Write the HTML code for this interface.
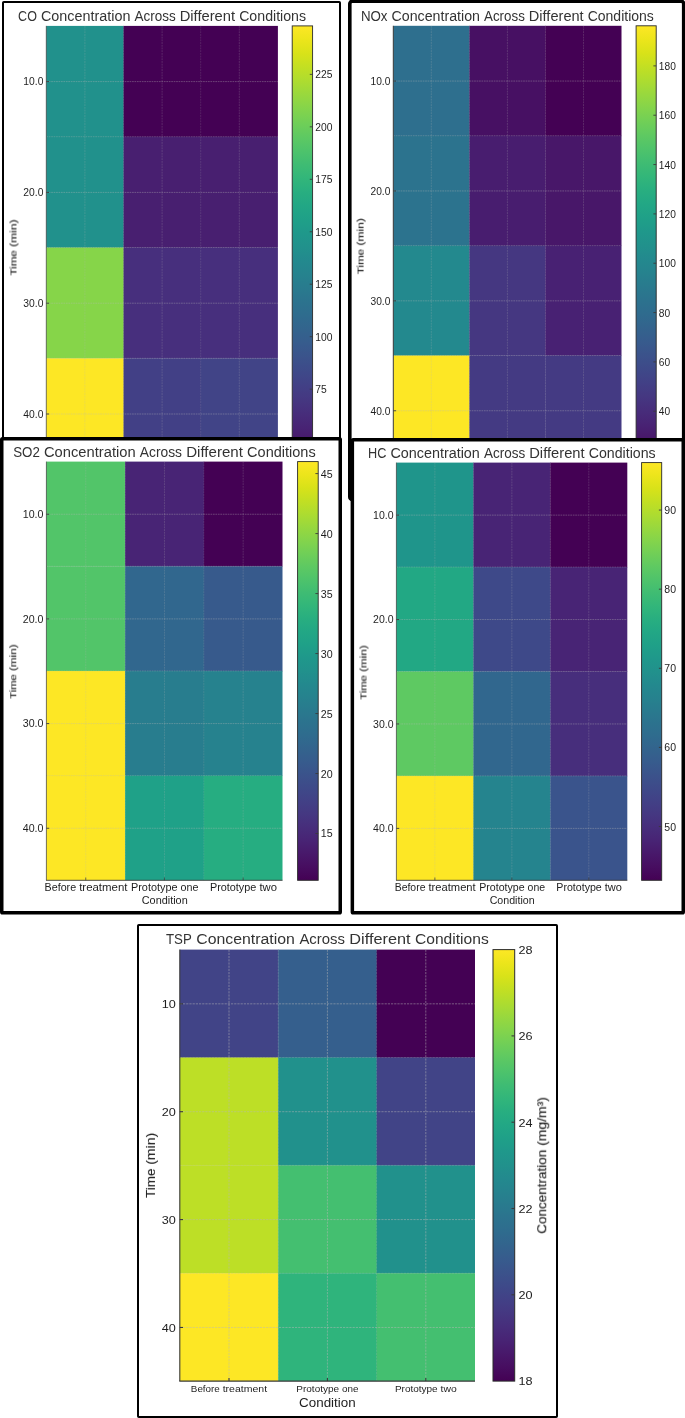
<!DOCTYPE html>
<html><head><meta charset="utf-8"><title>Concentration heatmaps</title><style>
html,body{margin:0;padding:0;background:#fff}
body{width:685px;height:1418px;position:relative;overflow:hidden;font-family:"Liberation Sans", sans-serif}
.layer{position:absolute;left:0;top:0;width:685px;height:1418px}
.t{position:absolute;white-space:nowrap;line-height:1;font-family:"Liberation Sans", sans-serif;will-change:transform}
.t span{position:absolute;left:0;top:0;transform-origin:0 0;white-space:nowrap}
</style></head>
<body>
<svg width="0" height="0" style="position:absolute"><defs><linearGradient id="vir" x1="0" y1="1" x2="0" y2="0"><stop offset="0.0000" stop-color="#440154"/><stop offset="0.0312" stop-color="#470d60"/><stop offset="0.0625" stop-color="#48186a"/><stop offset="0.0938" stop-color="#482374"/><stop offset="0.1250" stop-color="#472d7b"/><stop offset="0.1562" stop-color="#453781"/><stop offset="0.1875" stop-color="#424086"/><stop offset="0.2188" stop-color="#3e4989"/><stop offset="0.2500" stop-color="#3b528b"/><stop offset="0.2812" stop-color="#375b8d"/><stop offset="0.3125" stop-color="#33638d"/><stop offset="0.3438" stop-color="#2f6b8e"/><stop offset="0.3750" stop-color="#2c728e"/><stop offset="0.4062" stop-color="#297a8e"/><stop offset="0.4375" stop-color="#26828e"/><stop offset="0.4688" stop-color="#23898e"/><stop offset="0.5000" stop-color="#21918c"/><stop offset="0.5312" stop-color="#1f988b"/><stop offset="0.5625" stop-color="#1fa088"/><stop offset="0.5938" stop-color="#22a785"/><stop offset="0.6250" stop-color="#28ae80"/><stop offset="0.6562" stop-color="#32b67a"/><stop offset="0.6875" stop-color="#3fbc73"/><stop offset="0.7188" stop-color="#4ec36b"/><stop offset="0.7500" stop-color="#5ec962"/><stop offset="0.7812" stop-color="#70cf57"/><stop offset="0.8125" stop-color="#84d44b"/><stop offset="0.8438" stop-color="#98d83e"/><stop offset="0.8750" stop-color="#addc30"/><stop offset="0.9062" stop-color="#c2df23"/><stop offset="0.9375" stop-color="#d8e219"/><stop offset="0.9688" stop-color="#ece51b"/><stop offset="1.0000" stop-color="#fde725"/></linearGradient></defs></svg>
<div class="layer" id="p1">
<svg class="layer" width="685" height="1418" viewBox="0 0 685 1418">
<rect x="3.00" y="2.00" width="337.00" height="499.00" rx="0.8" fill="#fff" stroke="#000" stroke-width="2"/>
<rect x="46.30" y="25.90" width="77.60" height="111.20" fill="#21918c"/>
<rect x="123.50" y="25.90" width="77.60" height="111.20" fill="#440154"/>
<rect x="200.70" y="25.90" width="77.20" height="111.20" fill="#440154"/>
<rect x="46.30" y="136.70" width="77.60" height="111.20" fill="#21918c"/>
<rect x="123.50" y="136.70" width="77.60" height="111.20" fill="#481f70"/>
<rect x="200.70" y="136.70" width="77.20" height="111.20" fill="#481f70"/>
<rect x="46.30" y="247.50" width="77.60" height="111.20" fill="#86d549"/>
<rect x="123.50" y="247.50" width="77.60" height="111.20" fill="#472f7d"/>
<rect x="200.70" y="247.50" width="77.20" height="111.20" fill="#472f7d"/>
<rect x="46.30" y="358.30" width="77.60" height="110.80" fill="#fde725"/>
<rect x="123.50" y="358.30" width="77.60" height="110.80" fill="#424086"/>
<rect x="200.70" y="358.30" width="77.20" height="110.80" fill="#414487"/>
<line x1="84.90" y1="25.90" x2="84.90" y2="469.10" stroke="#b8b8b8" stroke-opacity="0.45" stroke-width="0.5" stroke-dasharray="1.9 0.8"/>
<line x1="162.10" y1="25.90" x2="162.10" y2="469.10" stroke="#b8b8b8" stroke-opacity="0.45" stroke-width="0.5" stroke-dasharray="1.9 0.8"/>
<line x1="239.30" y1="25.90" x2="239.30" y2="469.10" stroke="#b8b8b8" stroke-opacity="0.45" stroke-width="0.5" stroke-dasharray="1.9 0.8"/>
<line x1="46.30" y1="81.60" x2="277.90" y2="81.60" stroke="#b8b8b8" stroke-opacity="0.45" stroke-width="0.8" stroke-dasharray="1.7 0.75"/>
<line x1="46.30" y1="192.40" x2="277.90" y2="192.40" stroke="#b8b8b8" stroke-opacity="0.45" stroke-width="0.8" stroke-dasharray="1.7 0.75"/>
<line x1="46.30" y1="303.20" x2="277.90" y2="303.20" stroke="#b8b8b8" stroke-opacity="0.45" stroke-width="0.8" stroke-dasharray="1.7 0.75"/>
<line x1="46.30" y1="414.00" x2="277.90" y2="414.00" stroke="#b8b8b8" stroke-opacity="0.45" stroke-width="0.8" stroke-dasharray="1.7 0.75"/>
<line x1="123.50" y1="25.90" x2="123.50" y2="469.10" stroke="#b8b8b8" stroke-opacity="0.36" stroke-width="0.5" stroke-dasharray="1.9 0.8"/>
<line x1="200.70" y1="25.90" x2="200.70" y2="469.10" stroke="#b8b8b8" stroke-opacity="0.36" stroke-width="0.5" stroke-dasharray="1.9 0.8"/>
<line x1="46.30" y1="136.70" x2="277.90" y2="136.70" stroke="#b8b8b8" stroke-opacity="0.36" stroke-width="0.8" stroke-dasharray="1.7 0.75"/>
<line x1="46.30" y1="247.50" x2="277.90" y2="247.50" stroke="#b8b8b8" stroke-opacity="0.36" stroke-width="0.8" stroke-dasharray="1.7 0.75"/>
<line x1="46.30" y1="358.30" x2="277.90" y2="358.30" stroke="#b8b8b8" stroke-opacity="0.36" stroke-width="0.8" stroke-dasharray="1.7 0.75"/>
<path d="M46.30 25.90V469.10" stroke="#3a3a3a" stroke-width="0.7" fill="none"/>
<path d="M45.95 469.10H277.90" stroke="#3a3a3a" stroke-width="0.9" fill="none"/>
<path d="M46.30 81.60h2.8" stroke="#3a3a3a" stroke-width="0.9"/>
<path d="M46.30 192.40h2.8" stroke="#3a3a3a" stroke-width="0.9"/>
<path d="M46.30 303.20h2.8" stroke="#3a3a3a" stroke-width="0.9"/>
<path d="M46.30 414.00h2.8" stroke="#3a3a3a" stroke-width="0.9"/>
<path d="M84.90 469.10v-2.8" stroke="#3a3a3a" stroke-width="0.7"/>
<path d="M162.10 469.10v-2.8" stroke="#3a3a3a" stroke-width="0.7"/>
<path d="M239.30 469.10v-2.8" stroke="#3a3a3a" stroke-width="0.7"/>
<rect x="292.20" y="25.90" width="20.40" height="443.20" fill="url(#vir)" stroke="#2a2a2a" stroke-width="0.9"/>
<path d="M312.60 389.15h-2.8" stroke="#3a3a3a" stroke-width="0.9"/>
<path d="M312.60 336.69h-2.8" stroke="#3a3a3a" stroke-width="0.9"/>
<path d="M312.60 284.22h-2.8" stroke="#3a3a3a" stroke-width="0.9"/>
<path d="M312.60 231.76h-2.8" stroke="#3a3a3a" stroke-width="0.9"/>
<path d="M312.60 179.30h-2.8" stroke="#3a3a3a" stroke-width="0.9"/>
<path d="M312.60 126.84h-2.8" stroke="#3a3a3a" stroke-width="0.9"/>
<path d="M312.60 74.38h-2.8" stroke="#3a3a3a" stroke-width="0.9"/>
</svg>
<div class="t " style="left:315px;top:385px;width:11.50px;height:10.45px;font-size:10.45px;color:#1e1e1e"><span style="transform:translate(0.20px,0.09px) scaleX(0.9892)">75</span></div>
<div class="t " style="left:315px;top:332px;width:17.25px;height:10.45px;font-size:10.45px;color:#1e1e1e"><span style="transform:translate(0.20px,0.63px) scaleX(0.9891)">100</span></div>
<div class="t " style="left:315px;top:280px;width:17.25px;height:10.45px;font-size:10.45px;color:#1e1e1e"><span style="transform:translate(0.20px,0.17px) scaleX(0.9891)">125</span></div>
<div class="t " style="left:315px;top:227px;width:17.25px;height:10.45px;font-size:10.45px;color:#1e1e1e"><span style="transform:translate(0.20px,0.71px) scaleX(0.9891)">150</span></div>
<div class="t " style="left:315px;top:175px;width:17.25px;height:10.45px;font-size:10.45px;color:#1e1e1e"><span style="transform:translate(0.20px,0.24px) scaleX(0.9891)">175</span></div>
<div class="t " style="left:315px;top:122px;width:17.25px;height:10.45px;font-size:10.45px;color:#1e1e1e"><span style="transform:translate(0.20px,0.78px) scaleX(0.9891)">200</span></div>
<div class="t " style="left:315px;top:70px;width:17.25px;height:10.45px;font-size:10.45px;color:#1e1e1e"><span style="transform:translate(0.20px,0.32px) scaleX(0.9891)">225</span></div>
<div class="t " style="left:23px;top:77px;width:20.12px;height:10.45px;font-size:10.45px;color:#1e1e1e"><span style="transform:translate(0.28px,0.25px) scaleX(0.9892)">10.0</span></div>
<div class="t " style="left:23px;top:188px;width:20.12px;height:10.45px;font-size:10.45px;color:#1e1e1e"><span style="transform:translate(0.28px,0.05px) scaleX(0.9892)">20.0</span></div>
<div class="t " style="left:23px;top:298px;width:20.12px;height:10.45px;font-size:10.45px;color:#1e1e1e"><span style="transform:translate(0.28px,0.84px) scaleX(0.9892)">30.0</span></div>
<div class="t " style="left:23px;top:409px;width:20.12px;height:10.45px;font-size:10.45px;color:#1e1e1e"><span style="transform:translate(0.28px,0.65px) scaleX(0.9892)">40.0</span></div>
<div class="t ttl" style="left:18px;top:8px;width:288.00px;height:14.63px;font-size:14.63px;color:#333333"><span style="transform:translate(0.10px,0.90px) scaleX(0.8563)">CO</span> <span style="transform:translate(22.91px,0.90px) scaleX(0.9825)">Concentration</span> <span style="transform:translate(116.43px,0.90px) scaleX(0.9222)">Across</span> <span style="transform:translate(161.68px,0.90px) scaleX(1.0075)">Different</span> <span style="transform:translate(221.14px,0.90px) scaleX(0.9686)">Conditions</span></div>
<div class="t" style="left:-15px;top:242px;width:55.94px;height:9.44px;font-size:9.44px;color:#1e1e1e;transform:translate(0.24px,0.78px) rotate(-90deg);-webkit-text-stroke:0.12px #1e1e1e"><span style="transform:translate(0.00px,0.00px) scaleX(1.2220)">Time</span> <span style="transform:translate(28.48px,0.00px) scaleX(1.2774)">(min)</span></div>
</div>
<div class="layer" id="p2">
<svg class="layer" width="685" height="1418" viewBox="0 0 685 1418">
<rect x="349.80" y="1.30" width="333.90" height="498.20" rx="2.5" fill="#fff" stroke="#000" stroke-width="3.6"/>
<rect x="393.30" y="25.80" width="76.47" height="110.30" fill="#2e6f8e"/>
<rect x="469.37" y="25.80" width="76.47" height="110.30" fill="#471063"/>
<rect x="545.43" y="25.80" width="76.07" height="110.30" fill="#440154"/>
<rect x="393.30" y="135.70" width="76.47" height="110.30" fill="#2c738e"/>
<rect x="469.37" y="135.70" width="76.47" height="110.30" fill="#481d6f"/>
<rect x="545.43" y="135.70" width="76.07" height="110.30" fill="#481769"/>
<rect x="393.30" y="245.60" width="76.47" height="110.30" fill="#23898e"/>
<rect x="469.37" y="245.60" width="76.47" height="110.30" fill="#453781"/>
<rect x="545.43" y="245.60" width="76.07" height="110.30" fill="#482173"/>
<rect x="393.30" y="355.50" width="76.47" height="109.90" fill="#fde725"/>
<rect x="469.37" y="355.50" width="76.47" height="109.90" fill="#443a83"/>
<rect x="545.43" y="355.50" width="76.07" height="109.90" fill="#443a83"/>
<line x1="431.33" y1="25.80" x2="431.33" y2="465.40" stroke="#b8b8b8" stroke-opacity="0.45" stroke-width="0.5" stroke-dasharray="1.9 0.8"/>
<line x1="507.40" y1="25.80" x2="507.40" y2="465.40" stroke="#b8b8b8" stroke-opacity="0.45" stroke-width="0.5" stroke-dasharray="1.9 0.8"/>
<line x1="583.47" y1="25.80" x2="583.47" y2="465.40" stroke="#b8b8b8" stroke-opacity="0.45" stroke-width="0.5" stroke-dasharray="1.9 0.8"/>
<line x1="393.30" y1="81.05" x2="621.50" y2="81.05" stroke="#b8b8b8" stroke-opacity="0.45" stroke-width="0.8" stroke-dasharray="1.7 0.75"/>
<line x1="393.30" y1="190.95" x2="621.50" y2="190.95" stroke="#b8b8b8" stroke-opacity="0.45" stroke-width="0.8" stroke-dasharray="1.7 0.75"/>
<line x1="393.30" y1="300.85" x2="621.50" y2="300.85" stroke="#b8b8b8" stroke-opacity="0.45" stroke-width="0.8" stroke-dasharray="1.7 0.75"/>
<line x1="393.30" y1="410.75" x2="621.50" y2="410.75" stroke="#b8b8b8" stroke-opacity="0.45" stroke-width="0.8" stroke-dasharray="1.7 0.75"/>
<line x1="469.37" y1="25.80" x2="469.37" y2="465.40" stroke="#b8b8b8" stroke-opacity="0.36" stroke-width="0.5" stroke-dasharray="1.9 0.8"/>
<line x1="545.43" y1="25.80" x2="545.43" y2="465.40" stroke="#b8b8b8" stroke-opacity="0.36" stroke-width="0.5" stroke-dasharray="1.9 0.8"/>
<line x1="393.30" y1="135.70" x2="621.50" y2="135.70" stroke="#b8b8b8" stroke-opacity="0.36" stroke-width="0.8" stroke-dasharray="1.7 0.75"/>
<line x1="393.30" y1="245.60" x2="621.50" y2="245.60" stroke="#b8b8b8" stroke-opacity="0.36" stroke-width="0.8" stroke-dasharray="1.7 0.75"/>
<line x1="393.30" y1="355.50" x2="621.50" y2="355.50" stroke="#b8b8b8" stroke-opacity="0.36" stroke-width="0.8" stroke-dasharray="1.7 0.75"/>
<path d="M393.30 25.80V465.40" stroke="#3a3a3a" stroke-width="1.0" fill="none"/>
<path d="M392.80 465.40H621.50" stroke="#3a3a3a" stroke-width="0.9" fill="none"/>
<path d="M393.30 81.05h2.8" stroke="#3a3a3a" stroke-width="0.9"/>
<path d="M393.30 190.95h2.8" stroke="#3a3a3a" stroke-width="0.9"/>
<path d="M393.30 300.85h2.8" stroke="#3a3a3a" stroke-width="0.9"/>
<path d="M393.30 410.75h2.8" stroke="#3a3a3a" stroke-width="0.9"/>
<path d="M431.33 465.40v-2.8" stroke="#3a3a3a" stroke-width="1.0"/>
<path d="M507.40 465.40v-2.8" stroke="#3a3a3a" stroke-width="1.0"/>
<path d="M583.47 465.40v-2.8" stroke="#3a3a3a" stroke-width="1.0"/>
<rect x="636.10" y="25.80" width="20.10" height="439.60" fill="url(#vir)" stroke="#2a2a2a" stroke-width="0.9"/>
<path d="M656.20 411.25h-2.8" stroke="#3a3a3a" stroke-width="0.9"/>
<path d="M656.20 361.91h-2.8" stroke="#3a3a3a" stroke-width="0.9"/>
<path d="M656.20 312.58h-2.8" stroke="#3a3a3a" stroke-width="0.9"/>
<path d="M656.20 263.24h-2.8" stroke="#3a3a3a" stroke-width="0.9"/>
<path d="M656.20 213.90h-2.8" stroke="#3a3a3a" stroke-width="0.9"/>
<path d="M656.20 164.56h-2.8" stroke="#3a3a3a" stroke-width="0.9"/>
<path d="M656.20 115.22h-2.8" stroke="#3a3a3a" stroke-width="0.9"/>
<path d="M656.20 65.89h-2.8" stroke="#3a3a3a" stroke-width="0.9"/>
</svg>
<div class="t " style="left:658px;top:407px;width:11.38px;height:10.45px;font-size:10.45px;color:#1e1e1e"><span style="transform:translate(0.80px,0.20px) scaleX(0.9787)">40</span></div>
<div class="t " style="left:658px;top:357px;width:11.38px;height:10.45px;font-size:10.45px;color:#1e1e1e"><span style="transform:translate(0.80px,0.86px) scaleX(0.9787)">60</span></div>
<div class="t " style="left:658px;top:308px;width:11.38px;height:10.45px;font-size:10.45px;color:#1e1e1e"><span style="transform:translate(0.80px,0.52px) scaleX(0.9787)">80</span></div>
<div class="t " style="left:658px;top:259px;width:17.06px;height:10.45px;font-size:10.45px;color:#1e1e1e"><span style="transform:translate(0.80px,0.18px) scaleX(0.9786)">100</span></div>
<div class="t " style="left:658px;top:209px;width:17.06px;height:10.45px;font-size:10.45px;color:#1e1e1e"><span style="transform:translate(0.80px,0.85px) scaleX(0.9786)">120</span></div>
<div class="t " style="left:658px;top:160px;width:17.06px;height:10.45px;font-size:10.45px;color:#1e1e1e"><span style="transform:translate(0.80px,0.51px) scaleX(0.9786)">140</span></div>
<div class="t " style="left:658px;top:111px;width:17.06px;height:10.45px;font-size:10.45px;color:#1e1e1e"><span style="transform:translate(0.80px,0.17px) scaleX(0.9786)">160</span></div>
<div class="t " style="left:658px;top:61px;width:17.06px;height:10.45px;font-size:10.45px;color:#1e1e1e"><span style="transform:translate(0.80px,0.83px) scaleX(0.9786)">180</span></div>
<div class="t " style="left:370px;top:77px;width:19.91px;height:10.45px;font-size:10.45px;color:#1e1e1e"><span style="transform:translate(0.49px,0.19px) scaleX(0.9787)">10.0</span></div>
<div class="t " style="left:370px;top:187px;width:19.91px;height:10.45px;font-size:10.45px;color:#1e1e1e"><span style="transform:translate(0.49px,0.10px) scaleX(0.9787)">20.0</span></div>
<div class="t " style="left:370px;top:296px;width:19.91px;height:10.45px;font-size:10.45px;color:#1e1e1e"><span style="transform:translate(0.49px,1.00px) scaleX(0.9787)">30.0</span></div>
<div class="t " style="left:370px;top:406px;width:19.91px;height:10.45px;font-size:10.45px;color:#1e1e1e"><span style="transform:translate(0.49px,0.89px) scaleX(0.9787)">40.0</span></div>
<div class="t ttl" style="left:360px;top:8px;width:292.97px;height:14.63px;font-size:14.63px;color:#333333"><span style="transform:translate(0.91px,0.90px) scaleX(0.9098)">NOx</span> <span style="transform:translate(31.51px,0.90px) scaleX(0.9721)">Concentration</span> <span style="transform:translate(124.04px,0.90px) scaleX(0.9124)">Across</span> <span style="transform:translate(168.81px,0.90px) scaleX(0.9968)">Different</span> <span style="transform:translate(227.64px,0.90px) scaleX(0.9583)">Conditions</span></div>
<div class="t" style="left:333px;top:241px;width:55.94px;height:9.34px;font-size:9.34px;color:#1e1e1e;transform:translate(0.26px,0.53px) rotate(-90deg);-webkit-text-stroke:0.12px #1e1e1e"><span style="transform:translate(0.00px,0.00px) scaleX(1.2351)">Time</span> <span style="transform:translate(28.48px,0.00px) scaleX(1.2910)">(min)</span></div>
</div>
<div class="layer" id="p3">
<svg class="layer" width="685" height="1418" viewBox="0 0 685 1418">
<rect x="1.75" y="438.75" width="338.50" height="474.00" rx="0.8" fill="#fff" stroke="#000" stroke-width="3.5"/>
<rect x="46.40" y="461.60" width="79.10" height="105.07" fill="#52c569"/>
<rect x="125.10" y="461.60" width="79.10" height="105.07" fill="#482475"/>
<rect x="203.80" y="461.60" width="78.70" height="105.07" fill="#440154"/>
<rect x="46.40" y="566.27" width="79.10" height="105.07" fill="#52c569"/>
<rect x="125.10" y="566.27" width="79.10" height="105.07" fill="#31678e"/>
<rect x="203.80" y="566.27" width="78.70" height="105.07" fill="#375a8c"/>
<rect x="46.40" y="670.95" width="79.10" height="105.07" fill="#fde725"/>
<rect x="125.10" y="670.95" width="79.10" height="105.07" fill="#287d8e"/>
<rect x="203.80" y="670.95" width="78.70" height="105.07" fill="#26828e"/>
<rect x="46.40" y="775.62" width="79.10" height="104.67" fill="#fde725"/>
<rect x="125.10" y="775.62" width="79.10" height="104.67" fill="#1fa188"/>
<rect x="203.80" y="775.62" width="78.70" height="104.67" fill="#26ad81"/>
<line x1="85.75" y1="461.60" x2="85.75" y2="880.30" stroke="#b8b8b8" stroke-opacity="0.45" stroke-width="0.5" stroke-dasharray="1.9 0.8"/>
<line x1="164.45" y1="461.60" x2="164.45" y2="880.30" stroke="#b8b8b8" stroke-opacity="0.45" stroke-width="0.5" stroke-dasharray="1.9 0.8"/>
<line x1="243.15" y1="461.60" x2="243.15" y2="880.30" stroke="#b8b8b8" stroke-opacity="0.45" stroke-width="0.5" stroke-dasharray="1.9 0.8"/>
<line x1="46.40" y1="514.24" x2="282.50" y2="514.24" stroke="#b8b8b8" stroke-opacity="0.45" stroke-width="0.8" stroke-dasharray="1.7 0.75"/>
<line x1="46.40" y1="618.91" x2="282.50" y2="618.91" stroke="#b8b8b8" stroke-opacity="0.45" stroke-width="0.8" stroke-dasharray="1.7 0.75"/>
<line x1="46.40" y1="723.59" x2="282.50" y2="723.59" stroke="#b8b8b8" stroke-opacity="0.45" stroke-width="0.8" stroke-dasharray="1.7 0.75"/>
<line x1="46.40" y1="828.26" x2="282.50" y2="828.26" stroke="#b8b8b8" stroke-opacity="0.45" stroke-width="0.8" stroke-dasharray="1.7 0.75"/>
<line x1="125.10" y1="461.60" x2="125.10" y2="880.30" stroke="#b8b8b8" stroke-opacity="0.36" stroke-width="0.5" stroke-dasharray="1.9 0.8"/>
<line x1="203.80" y1="461.60" x2="203.80" y2="880.30" stroke="#b8b8b8" stroke-opacity="0.36" stroke-width="0.5" stroke-dasharray="1.9 0.8"/>
<line x1="46.40" y1="566.27" x2="282.50" y2="566.27" stroke="#b8b8b8" stroke-opacity="0.36" stroke-width="0.8" stroke-dasharray="1.7 0.75"/>
<line x1="46.40" y1="670.95" x2="282.50" y2="670.95" stroke="#b8b8b8" stroke-opacity="0.36" stroke-width="0.8" stroke-dasharray="1.7 0.75"/>
<line x1="46.40" y1="775.62" x2="282.50" y2="775.62" stroke="#b8b8b8" stroke-opacity="0.36" stroke-width="0.8" stroke-dasharray="1.7 0.75"/>
<path d="M46.40 461.60V880.30" stroke="#3a3a3a" stroke-width="0.7" fill="none"/>
<path d="M46.05 880.30H282.50" stroke="#3a3a3a" stroke-width="0.9" fill="none"/>
<path d="M46.40 514.24h2.8" stroke="#3a3a3a" stroke-width="0.9"/>
<path d="M46.40 618.91h2.8" stroke="#3a3a3a" stroke-width="0.9"/>
<path d="M46.40 723.59h2.8" stroke="#3a3a3a" stroke-width="0.9"/>
<path d="M46.40 828.26h2.8" stroke="#3a3a3a" stroke-width="0.9"/>
<path d="M85.75 880.30v-2.8" stroke="#3a3a3a" stroke-width="0.7"/>
<path d="M164.45 880.30v-2.8" stroke="#3a3a3a" stroke-width="0.7"/>
<path d="M243.15 880.30v-2.8" stroke="#3a3a3a" stroke-width="0.7"/>
<rect x="297.60" y="461.60" width="20.60" height="418.70" fill="url(#vir)" stroke="#2a2a2a" stroke-width="0.9"/>
<path d="M318.20 833.51h-2.8" stroke="#3a3a3a" stroke-width="0.9"/>
<path d="M318.20 773.53h-2.8" stroke="#3a3a3a" stroke-width="0.9"/>
<path d="M318.20 713.54h-2.8" stroke="#3a3a3a" stroke-width="0.9"/>
<path d="M318.20 653.55h-2.8" stroke="#3a3a3a" stroke-width="0.9"/>
<path d="M318.20 593.57h-2.8" stroke="#3a3a3a" stroke-width="0.9"/>
<path d="M318.20 533.58h-2.8" stroke="#3a3a3a" stroke-width="0.9"/>
<path d="M318.20 473.60h-2.8" stroke="#3a3a3a" stroke-width="0.9"/>
</svg>
<div class="t " style="left:320px;top:828px;width:11.85px;height:10.55px;font-size:10.55px;color:#1e1e1e"><span style="transform:translate(0.80px,0.49px) scaleX(1.0098)">15</span></div>
<div class="t " style="left:320px;top:768px;width:11.85px;height:10.55px;font-size:10.55px;color:#1e1e1e"><span style="transform:translate(0.80px,0.51px) scaleX(1.0098)">20</span></div>
<div class="t " style="left:320px;top:708px;width:11.85px;height:10.55px;font-size:10.55px;color:#1e1e1e"><span style="transform:translate(0.80px,0.52px) scaleX(1.0098)">25</span></div>
<div class="t " style="left:320px;top:648px;width:11.85px;height:10.55px;font-size:10.55px;color:#1e1e1e"><span style="transform:translate(0.80px,0.54px) scaleX(1.0098)">30</span></div>
<div class="t " style="left:320px;top:588px;width:11.85px;height:10.55px;font-size:10.55px;color:#1e1e1e"><span style="transform:translate(0.80px,0.55px) scaleX(1.0098)">35</span></div>
<div class="t " style="left:320px;top:528px;width:11.85px;height:10.55px;font-size:10.55px;color:#1e1e1e"><span style="transform:translate(0.80px,0.56px) scaleX(1.0098)">40</span></div>
<div class="t " style="left:320px;top:468px;width:11.85px;height:10.55px;font-size:10.55px;color:#1e1e1e"><span style="transform:translate(0.80px,0.58px) scaleX(1.0098)">45</span></div>
<div class="t " style="left:22px;top:508px;width:20.73px;height:10.55px;font-size:10.55px;color:#1e1e1e"><span style="transform:translate(0.77px,0.92px) scaleX(1.0098)">10.0</span></div>
<div class="t " style="left:22px;top:613px;width:20.73px;height:10.55px;font-size:10.55px;color:#1e1e1e"><span style="transform:translate(0.77px,0.59px) scaleX(1.0098)">20.0</span></div>
<div class="t " style="left:22px;top:718px;width:20.73px;height:10.55px;font-size:10.55px;color:#1e1e1e"><span style="transform:translate(0.77px,0.27px) scaleX(1.0098)">30.0</span></div>
<div class="t " style="left:22px;top:822px;width:20.73px;height:10.55px;font-size:10.55px;color:#1e1e1e"><span style="transform:translate(0.77px,0.94px) scaleX(1.0098)">40.0</span></div>
<div class="t ttl" style="left:13px;top:444px;width:302.57px;height:14.12px;font-size:14.12px;color:#333333"><span style="transform:translate(0.17px,0.90px) scaleX(0.9443)">SO2</span> <span style="transform:translate(30.97px,0.90px) scaleX(1.0432)">Concentration</span> <span style="transform:translate(126.80px,0.90px) scaleX(0.9792)">Across</span> <span style="transform:translate(173.18px,0.90px) scaleX(1.0698)">Different</span> <span style="transform:translate(234.11px,0.90px) scaleX(1.0285)">Conditions</span></div>
<div class="t" style="left:-15px;top:666px;width:54.31px;height:9.63px;font-size:9.63px;color:#1e1e1e;transform:translate(0.92px,0.74px) rotate(-90deg);-webkit-text-stroke:0.12px #1e1e1e"><span style="transform:translate(0.00px,0.00px) scaleX(1.1630)">Time</span> <span style="transform:translate(27.65px,0.00px) scaleX(1.2157)">(min)</span></div>
<div class="t " style="left:44px;top:883px;width:82.90px;height:10.16px;font-size:10.16px;color:#1e1e1e"><span style="transform:translate(0.60px,0.10px) scaleX(1.0523)">Before</span> <span style="transform:translate(35.16px,0.10px) scaleX(1.1262)">treatment</span></div>
<div class="t " style="left:131px;top:883px;width:67.47px;height:10.16px;font-size:10.16px;color:#1e1e1e"><span style="transform:translate(0.01px,0.10px) scaleX(1.0688)">Prototype</span> <span style="transform:translate(49.56px,0.10px) scaleX(1.0576)">one</span></div>
<div class="t " style="left:209px;top:883px;width:67.10px;height:10.16px;font-size:10.16px;color:#1e1e1e"><span style="transform:translate(0.90px,0.10px) scaleX(1.0688)">Prototype</span> <span style="transform:translate(50.45px,0.10px) scaleX(1.1101)">two</span></div>
<div class="t " style="left:141px;top:895px;width:45.98px;height:10.16px;font-size:10.16px;color:#1e1e1e"><span style="transform:translate(0.76px,0.60px) scaleX(1.0711)">Condition</span></div>
</div>
<div class="layer" id="p4">
<svg class="layer" width="685" height="1418" viewBox="0 0 685 1418">
<rect x="352.35" y="439.75" width="330.90" height="473.00" rx="0.8" fill="#fff" stroke="#000" stroke-width="3.5"/>
<rect x="396.40" y="462.60" width="77.37" height="104.82" fill="#1f958b"/>
<rect x="473.37" y="462.60" width="77.37" height="104.82" fill="#482475"/>
<rect x="550.33" y="462.60" width="76.97" height="104.82" fill="#440154"/>
<rect x="396.40" y="567.02" width="77.37" height="104.82" fill="#22a884"/>
<rect x="473.37" y="567.02" width="77.37" height="104.82" fill="#3e4989"/>
<rect x="550.33" y="567.02" width="76.97" height="104.82" fill="#482475"/>
<rect x="396.40" y="671.45" width="77.37" height="104.82" fill="#5ec962"/>
<rect x="473.37" y="671.45" width="77.37" height="104.82" fill="#31678e"/>
<rect x="550.33" y="671.45" width="76.97" height="104.82" fill="#472e7c"/>
<rect x="396.40" y="775.88" width="77.37" height="104.42" fill="#fde725"/>
<rect x="473.37" y="775.88" width="77.37" height="104.42" fill="#25848e"/>
<rect x="550.33" y="775.88" width="76.97" height="104.42" fill="#3a548c"/>
<line x1="434.88" y1="462.60" x2="434.88" y2="880.30" stroke="#b8b8b8" stroke-opacity="0.45" stroke-width="0.5" stroke-dasharray="1.9 0.8"/>
<line x1="511.85" y1="462.60" x2="511.85" y2="880.30" stroke="#b8b8b8" stroke-opacity="0.45" stroke-width="0.5" stroke-dasharray="1.9 0.8"/>
<line x1="588.82" y1="462.60" x2="588.82" y2="880.30" stroke="#b8b8b8" stroke-opacity="0.45" stroke-width="0.5" stroke-dasharray="1.9 0.8"/>
<line x1="396.40" y1="515.11" x2="627.30" y2="515.11" stroke="#b8b8b8" stroke-opacity="0.45" stroke-width="0.8" stroke-dasharray="1.7 0.75"/>
<line x1="396.40" y1="619.54" x2="627.30" y2="619.54" stroke="#b8b8b8" stroke-opacity="0.45" stroke-width="0.8" stroke-dasharray="1.7 0.75"/>
<line x1="396.40" y1="723.96" x2="627.30" y2="723.96" stroke="#b8b8b8" stroke-opacity="0.45" stroke-width="0.8" stroke-dasharray="1.7 0.75"/>
<line x1="396.40" y1="828.39" x2="627.30" y2="828.39" stroke="#b8b8b8" stroke-opacity="0.45" stroke-width="0.8" stroke-dasharray="1.7 0.75"/>
<line x1="473.37" y1="462.60" x2="473.37" y2="880.30" stroke="#b8b8b8" stroke-opacity="0.36" stroke-width="0.5" stroke-dasharray="1.9 0.8"/>
<line x1="550.33" y1="462.60" x2="550.33" y2="880.30" stroke="#b8b8b8" stroke-opacity="0.36" stroke-width="0.5" stroke-dasharray="1.9 0.8"/>
<line x1="396.40" y1="567.02" x2="627.30" y2="567.02" stroke="#b8b8b8" stroke-opacity="0.36" stroke-width="0.8" stroke-dasharray="1.7 0.75"/>
<line x1="396.40" y1="671.45" x2="627.30" y2="671.45" stroke="#b8b8b8" stroke-opacity="0.36" stroke-width="0.8" stroke-dasharray="1.7 0.75"/>
<line x1="396.40" y1="775.88" x2="627.30" y2="775.88" stroke="#b8b8b8" stroke-opacity="0.36" stroke-width="0.8" stroke-dasharray="1.7 0.75"/>
<path d="M396.40 462.60V880.30" stroke="#3a3a3a" stroke-width="0.7" fill="none"/>
<path d="M396.05 880.30H627.30" stroke="#3a3a3a" stroke-width="0.9" fill="none"/>
<path d="M396.40 515.11h2.8" stroke="#3a3a3a" stroke-width="0.9"/>
<path d="M396.40 619.54h2.8" stroke="#3a3a3a" stroke-width="0.9"/>
<path d="M396.40 723.96h2.8" stroke="#3a3a3a" stroke-width="0.9"/>
<path d="M396.40 828.39h2.8" stroke="#3a3a3a" stroke-width="0.9"/>
<path d="M434.88 880.30v-2.8" stroke="#3a3a3a" stroke-width="0.7"/>
<path d="M511.85 880.30v-2.8" stroke="#3a3a3a" stroke-width="0.7"/>
<path d="M588.82 880.30v-2.8" stroke="#3a3a3a" stroke-width="0.7"/>
<rect x="641.60" y="462.60" width="20.10" height="417.70" fill="url(#vir)" stroke="#2a2a2a" stroke-width="0.9"/>
<path d="M661.70 826.51h-2.8" stroke="#3a3a3a" stroke-width="0.9"/>
<path d="M661.70 747.40h-2.8" stroke="#3a3a3a" stroke-width="0.9"/>
<path d="M661.70 668.29h-2.8" stroke="#3a3a3a" stroke-width="0.9"/>
<path d="M661.70 589.18h-2.8" stroke="#3a3a3a" stroke-width="0.9"/>
<path d="M661.70 510.07h-2.8" stroke="#3a3a3a" stroke-width="0.9"/>
</svg>
<div class="t " style="left:664px;top:821px;width:11.69px;height:10.66px;font-size:10.66px;color:#1e1e1e"><span style="transform:translate(0.30px,0.52px) scaleX(0.9862)">50</span></div>
<div class="t " style="left:664px;top:742px;width:11.69px;height:10.66px;font-size:10.66px;color:#1e1e1e"><span style="transform:translate(0.30px,0.41px) scaleX(0.9862)">60</span></div>
<div class="t " style="left:664px;top:663px;width:11.69px;height:10.66px;font-size:10.66px;color:#1e1e1e"><span style="transform:translate(0.30px,0.30px) scaleX(0.9862)">70</span></div>
<div class="t " style="left:664px;top:584px;width:11.69px;height:10.66px;font-size:10.66px;color:#1e1e1e"><span style="transform:translate(0.30px,0.19px) scaleX(0.9862)">80</span></div>
<div class="t " style="left:664px;top:505px;width:11.69px;height:10.66px;font-size:10.66px;color:#1e1e1e"><span style="transform:translate(0.30px,0.08px) scaleX(0.9862)">90</span></div>
<div class="t " style="left:373px;top:509px;width:20.46px;height:10.66px;font-size:10.66px;color:#1e1e1e"><span style="transform:translate(0.04px,0.83px) scaleX(0.9862)">10.0</span></div>
<div class="t " style="left:373px;top:614px;width:20.46px;height:10.66px;font-size:10.66px;color:#1e1e1e"><span style="transform:translate(0.04px,0.26px) scaleX(0.9862)">20.0</span></div>
<div class="t " style="left:373px;top:718px;width:20.46px;height:10.66px;font-size:10.66px;color:#1e1e1e"><span style="transform:translate(0.04px,0.68px) scaleX(0.9862)">30.0</span></div>
<div class="t " style="left:373px;top:823px;width:20.46px;height:10.66px;font-size:10.66px;color:#1e1e1e"><span style="transform:translate(0.04px,0.11px) scaleX(0.9862)">40.0</span></div>
<div class="t ttl" style="left:368px;top:445px;width:287.68px;height:14.12px;font-size:14.12px;color:#333333"><span style="transform:translate(0.01px,0.80px) scaleX(0.9000)">HC</span> <span style="transform:translate(22.39px,0.80px) scaleX(1.0184)">Concentration</span> <span style="transform:translate(115.94px,0.80px) scaleX(0.9559)">Across</span> <span style="transform:translate(161.22px,0.80px) scaleX(1.0443)">Different</span> <span style="transform:translate(220.70px,0.80px) scaleX(1.0040)">Conditions</span></div>
<div class="t" style="left:336px;top:667px;width:54.31px;height:9.42px;font-size:9.42px;color:#1e1e1e;transform:translate(0.04px,0.74px) rotate(-90deg);-webkit-text-stroke:0.12px #1e1e1e"><span style="transform:translate(0.00px,0.00px) scaleX(1.1889)">Time</span> <span style="transform:translate(27.65px,0.00px) scaleX(1.2428)">(min)</span></div>
<div class="t " style="left:394px;top:883px;width:81.01px;height:10.16px;font-size:10.16px;color:#1e1e1e"><span style="transform:translate(0.68px,0.10px) scaleX(1.0283)">Before</span> <span style="transform:translate(34.45px,0.10px) scaleX(1.1006)">treatment</span></div>
<div class="t " style="left:479px;top:883px;width:65.94px;height:10.16px;font-size:10.16px;color:#1e1e1e"><span style="transform:translate(0.18px,0.10px) scaleX(1.0445)">Prototype</span> <span style="transform:translate(48.60px,0.10px) scaleX(1.0335)">one</span></div>
<div class="t " style="left:556px;top:883px;width:65.57px;height:10.16px;font-size:10.16px;color:#1e1e1e"><span style="transform:translate(0.33px,0.10px) scaleX(1.0445)">Prototype</span> <span style="transform:translate(48.75px,0.10px) scaleX(1.0848)">two</span></div>
<div class="t " style="left:489px;top:895px;width:44.93px;height:10.16px;font-size:10.16px;color:#1e1e1e"><span style="transform:translate(0.68px,0.60px) scaleX(1.0467)">Condition</span></div>
</div>
<div class="layer" id="p5">
<svg class="layer" width="685" height="1418" viewBox="0 0 685 1418">
<rect x="138.00" y="925.00" width="419.00" height="492.00" rx="0.8" fill="#fff" stroke="#000" stroke-width="2"/>
<rect x="179.80" y="949.60" width="98.80" height="108.27" fill="#414487"/>
<rect x="278.20" y="949.60" width="98.80" height="108.27" fill="#355f8d"/>
<rect x="376.60" y="949.60" width="98.40" height="108.27" fill="#440154"/>
<rect x="179.80" y="1057.47" width="98.80" height="108.27" fill="#bddf26"/>
<rect x="278.20" y="1057.47" width="98.80" height="108.27" fill="#21918c"/>
<rect x="376.60" y="1057.47" width="98.40" height="108.27" fill="#414487"/>
<rect x="179.80" y="1165.35" width="98.80" height="108.27" fill="#bddf26"/>
<rect x="278.20" y="1165.35" width="98.80" height="108.27" fill="#44bf70"/>
<rect x="376.60" y="1165.35" width="98.40" height="108.27" fill="#21918c"/>
<rect x="179.80" y="1273.22" width="98.80" height="107.87" fill="#fde725"/>
<rect x="278.20" y="1273.22" width="98.80" height="107.87" fill="#2fb47c"/>
<rect x="376.60" y="1273.22" width="98.40" height="107.87" fill="#44bf70"/>
<line x1="229.00" y1="949.60" x2="229.00" y2="1381.10" stroke="#b8b8b8" stroke-opacity="0.62" stroke-width="0.8" stroke-dasharray="2.2 1.0"/>
<line x1="327.40" y1="949.60" x2="327.40" y2="1381.10" stroke="#b8b8b8" stroke-opacity="0.62" stroke-width="0.8" stroke-dasharray="2.2 1.0"/>
<line x1="425.80" y1="949.60" x2="425.80" y2="1381.10" stroke="#b8b8b8" stroke-opacity="0.62" stroke-width="0.8" stroke-dasharray="2.2 1.0"/>
<line x1="179.80" y1="1003.84" x2="475.00" y2="1003.84" stroke="#b8b8b8" stroke-opacity="0.62" stroke-width="0.8" stroke-dasharray="2.2 1.0"/>
<line x1="179.80" y1="1111.71" x2="475.00" y2="1111.71" stroke="#b8b8b8" stroke-opacity="0.62" stroke-width="0.8" stroke-dasharray="2.2 1.0"/>
<line x1="179.80" y1="1219.59" x2="475.00" y2="1219.59" stroke="#b8b8b8" stroke-opacity="0.62" stroke-width="0.8" stroke-dasharray="2.2 1.0"/>
<line x1="179.80" y1="1327.46" x2="475.00" y2="1327.46" stroke="#b8b8b8" stroke-opacity="0.62" stroke-width="0.8" stroke-dasharray="2.2 1.0"/>
<line x1="278.20" y1="949.60" x2="278.20" y2="1381.10" stroke="#b8b8b8" stroke-opacity="0.28" stroke-width="0.8" stroke-dasharray="2.2 1.0"/>
<line x1="376.60" y1="949.60" x2="376.60" y2="1381.10" stroke="#b8b8b8" stroke-opacity="0.28" stroke-width="0.8" stroke-dasharray="2.2 1.0"/>
<line x1="179.80" y1="1057.47" x2="475.00" y2="1057.47" stroke="#b8b8b8" stroke-opacity="0.28" stroke-width="0.8" stroke-dasharray="2.2 1.0"/>
<line x1="179.80" y1="1165.35" x2="475.00" y2="1165.35" stroke="#b8b8b8" stroke-opacity="0.28" stroke-width="0.8" stroke-dasharray="2.2 1.0"/>
<line x1="179.80" y1="1273.22" x2="475.00" y2="1273.22" stroke="#b8b8b8" stroke-opacity="0.28" stroke-width="0.8" stroke-dasharray="2.2 1.0"/>
<path d="M179.80 949.60V1381.10" stroke="#3a3a3a" stroke-width="1.1" fill="none"/>
<path d="M179.25 1381.10H475.00" stroke="#3a3a3a" stroke-width="1.1" fill="none"/>
<path d="M179.80 1003.84h3.2" stroke="#3a3a3a" stroke-width="1.1"/>
<path d="M179.80 1111.71h3.2" stroke="#3a3a3a" stroke-width="1.1"/>
<path d="M179.80 1219.59h3.2" stroke="#3a3a3a" stroke-width="1.1"/>
<path d="M179.80 1327.46h3.2" stroke="#3a3a3a" stroke-width="1.1"/>
<path d="M229.00 1381.10v-3.2" stroke="#3a3a3a" stroke-width="1.1"/>
<path d="M327.40 1381.10v-3.2" stroke="#3a3a3a" stroke-width="1.1"/>
<path d="M425.80 1381.10v-3.2" stroke="#3a3a3a" stroke-width="1.1"/>
<rect x="493.00" y="949.60" width="21.70" height="431.50" fill="url(#vir)" stroke="#2a2a2a" stroke-width="1.0"/>
<path d="M514.70 1294.80h-3.2" stroke="#3a3a3a" stroke-width="1.1"/>
<path d="M514.70 1208.50h-3.2" stroke="#3a3a3a" stroke-width="1.1"/>
<path d="M514.70 1122.20h-3.2" stroke="#3a3a3a" stroke-width="1.1"/>
<path d="M514.70 1035.90h-3.2" stroke="#3a3a3a" stroke-width="1.1"/>
</svg>
<div class="t " style="left:518px;top:1375px;width:14.08px;height:11.6px;font-size:11.6px;color:#1e1e1e"><span style="transform:translate(0.50px,0.45px) scaleX(1.0914)">18</span></div>
<div class="t " style="left:518px;top:1289px;width:14.08px;height:11.6px;font-size:11.6px;color:#1e1e1e"><span style="transform:translate(0.50px,0.15px) scaleX(1.0914)">20</span></div>
<div class="t " style="left:518px;top:1202px;width:14.08px;height:11.6px;font-size:11.6px;color:#1e1e1e"><span style="transform:translate(0.50px,0.85px) scaleX(1.0914)">22</span></div>
<div class="t " style="left:518px;top:1116px;width:14.08px;height:11.6px;font-size:11.6px;color:#1e1e1e"><span style="transform:translate(0.50px,0.55px) scaleX(1.0914)">24</span></div>
<div class="t " style="left:518px;top:1030px;width:14.08px;height:11.6px;font-size:11.6px;color:#1e1e1e"><span style="transform:translate(0.50px,0.25px) scaleX(1.0914)">26</span></div>
<div class="t " style="left:518px;top:943px;width:14.08px;height:11.6px;font-size:11.6px;color:#1e1e1e"><span style="transform:translate(0.50px,0.95px) scaleX(1.0914)">28</span></div>
<div class="t " style="left:161px;top:997px;width:14.08px;height:11.6px;font-size:11.6px;color:#1e1e1e"><span style="transform:translate(0.72px,0.88px) scaleX(1.0914)">10</span></div>
<div class="t " style="left:161px;top:1105px;width:14.08px;height:11.6px;font-size:11.6px;color:#1e1e1e"><span style="transform:translate(0.72px,0.76px) scaleX(1.0914)">20</span></div>
<div class="t " style="left:161px;top:1213px;width:14.08px;height:11.6px;font-size:11.6px;color:#1e1e1e"><span style="transform:translate(0.72px,0.63px) scaleX(1.0914)">30</span></div>
<div class="t " style="left:161px;top:1321px;width:14.08px;height:11.6px;font-size:11.6px;color:#1e1e1e"><span style="transform:translate(0.72px,0.51px) scaleX(1.0914)">40</span></div>
<div class="t ttl" style="left:165px;top:931px;width:322.84px;height:14.63px;font-size:14.63px;color:#333333"><span style="transform:translate(0.98px,0.90px) scaleX(0.9069)">TSP</span> <span style="transform:translate(31.22px,0.90px) scaleX(1.0841)">Concentration</span> <span style="transform:translate(134.40px,0.90px) scaleX(1.0175)">Across</span> <span style="transform:translate(184.33px,0.90px) scaleX(1.1116)">Different</span> <span style="transform:translate(249.94px,0.90px) scaleX(1.0687)">Conditions</span></div>
<div class="t" style="left:118px;top:1159px;width:65.18px;height:12.5px;font-size:12.5px;color:#1e1e1e;transform:translate(0.62px,0.10px) rotate(-90deg);-webkit-text-stroke:0.12px #1e1e1e"><span style="transform:translate(0.00px,0.00px) scaleX(1.0752)">Time</span> <span style="transform:translate(33.18px,0.00px) scaleX(1.1239)">(min)</span></div>
<div class="t " style="left:190px;top:1383px;width:76.35px;height:9.86px;font-size:9.86px;color:#1e1e1e"><span style="transform:translate(0.83px,0.80px) scaleX(0.9986)">Before</span> <span style="transform:translate(32.66px,0.80px) scaleX(1.0688)">treatment</span></div>
<div class="t " style="left:296px;top:1383px;width:62.14px;height:9.86px;font-size:9.86px;color:#1e1e1e"><span style="transform:translate(0.33px,0.80px) scaleX(1.0143)">Prototype</span> <span style="transform:translate(45.96px,0.80px) scaleX(1.0036)">one</span></div>
<div class="t " style="left:394px;top:1383px;width:61.79px;height:9.86px;font-size:9.86px;color:#1e1e1e"><span style="transform:translate(0.90px,0.80px) scaleX(1.0143)">Prototype</span> <span style="transform:translate(46.53px,0.80px) scaleX(1.0535)">two</span></div>
<div class="t " style="left:299px;top:1397px;width:56.62px;height:12.44px;font-size:12.44px;color:#1e1e1e"><span style="transform:translate(0.09px,0.30px) scaleX(1.0772)">Condition</span></div>
<div class="t" style="left:474px;top:1159px;width:136.77px;height:12.4px;font-size:12.4px;color:#1e1e1e;transform:translate(0.04px,0.15px) rotate(-90deg);-webkit-text-stroke:0.12px #1e1e1e"><span style="transform:translate(0.00px,0.00px) scaleX(1.0904)">Concentration</span> <span style="transform:translate(87.97px,0.00px) scaleX(1.1248)">(mg/m³)</span></div>
</div>
</body></html>
